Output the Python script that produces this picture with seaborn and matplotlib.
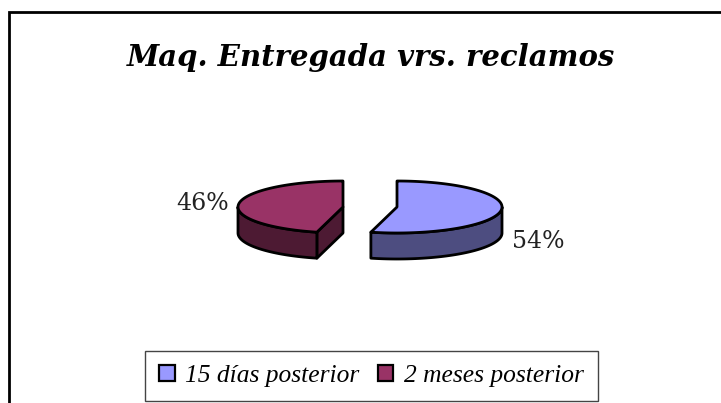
import numpy as np
import seaborn as sns
import matplotlib
matplotlib.use("Agg")
import matplotlib.pyplot as plt
from matplotlib.patches import Patch

categories = ["15 días posterior", "2 meses posterior"]
shares = [54, 46]
share_labels = ["54%", "46%"]
colors = ["#9999FF", "#993366"]
title = "Maq. Entregada vrs. reclamos"


def arc(cx, cy, t0, t1, rx=105, ry=26, dy=0):
    # angulos en grados, desde las 12 en sentido horario
    t = np.radians(np.linspace(t0, t1, max(int(abs(t1 - t0)), 2)))
    return cx + rx * np.sin(t), cy - ry * np.cos(t) + dy


def draw_slice(ax, cx, cy, t0, t1, color, depth=26):
    dark = tuple(0.5 * c for c in matplotlib.colors.to_rgb(color))
    line = dict(edgecolor="black", linewidth=2, joinstyle="round")

    # cara de corte visible (solo la que mira hacia abajo a la derecha)
    if t0 > 180:
        sx, sy = arc(cx, cy, t0, t0)
        ax.fill([cx, sx[0], sx[0], cx], [cy, sy[0], sy[0] + depth, cy + depth],
                facecolor=dark, **line)

    # pared exterior, solo la mitad inferior de la elipse
    w0, w1 = max(t0, 90), min(t1, 270)
    x, y = arc(cx, cy, w0, w1)
    x2, y2 = arc(cx, cy, w0, w1, dy=depth)
    ax.fill(np.r_[x, x2[::-1]], np.r_[y, y2[::-1]], facecolor=dark, **line)

    # cara superior
    x, y = arc(cx, cy, t0, t1)
    ax.fill(np.r_[cx, x], np.r_[cy, y], facecolor=color, **line)


def main():
    sns.set_theme(style="white")
    plt.rcParams["font.family"] = ["Liberation Serif", "DejaVu Serif"]

    fig = plt.figure(figsize=(7.21, 4.03), dpi=100)
    ax = fig.add_axes([0, 0, 1, 1])
    ax.set_xlim(0, 721)
    ax.set_ylim(403, 0)
    ax.axis("off")

    # marco de la diapositiva, abierto abajo
    ax.plot([9, 9, 721], [403, 12, 12], color="black", linewidth=2, solid_joinstyle="miter")

    ax.text(371, 57, title, ha="center", va="center", fontsize=21,
            fontweight="bold", fontstyle="italic", color="black", family="DejaVu Serif")

    ends = np.cumsum(shares) / np.sum(shares) * 360
    draw_slice(ax, 397, 207, 0, ends[0], colors[0])
    draw_slice(ax, 343, 207, ends[0], ends[1], colors[1])

    ax.text(538.5, 241, share_labels[0], ha="center", va="center", fontsize=17,
            color="#222222", family="DejaVu Serif")
    ax.text(202.5, 203, share_labels[1], ha="center", va="center", fontsize=17,
            color="#222222", family="DejaVu Serif")

    handles = [Patch(facecolor=c, edgecolor="black", linewidth=1.6) for c in colors]
    leg = ax.legend(handles, categories, loc="center", bbox_to_anchor=(371.5, 376),
                    bbox_transform=ax.transData, ncol=2, frameon=True, fancybox=False,
                    edgecolor="#444444", framealpha=1, prop=dict(size=18.4, style="italic"),
                    handlelength=0.62, handleheight=0.62, handletextpad=0.42, columnspacing=0.7,
                    borderpad=0.55, labelcolor="black")
    leg.get_frame().set_linewidth(1)

    fig.savefig("out.png", dpi=100, facecolor="white")


if __name__ == "__main__":
    main()
